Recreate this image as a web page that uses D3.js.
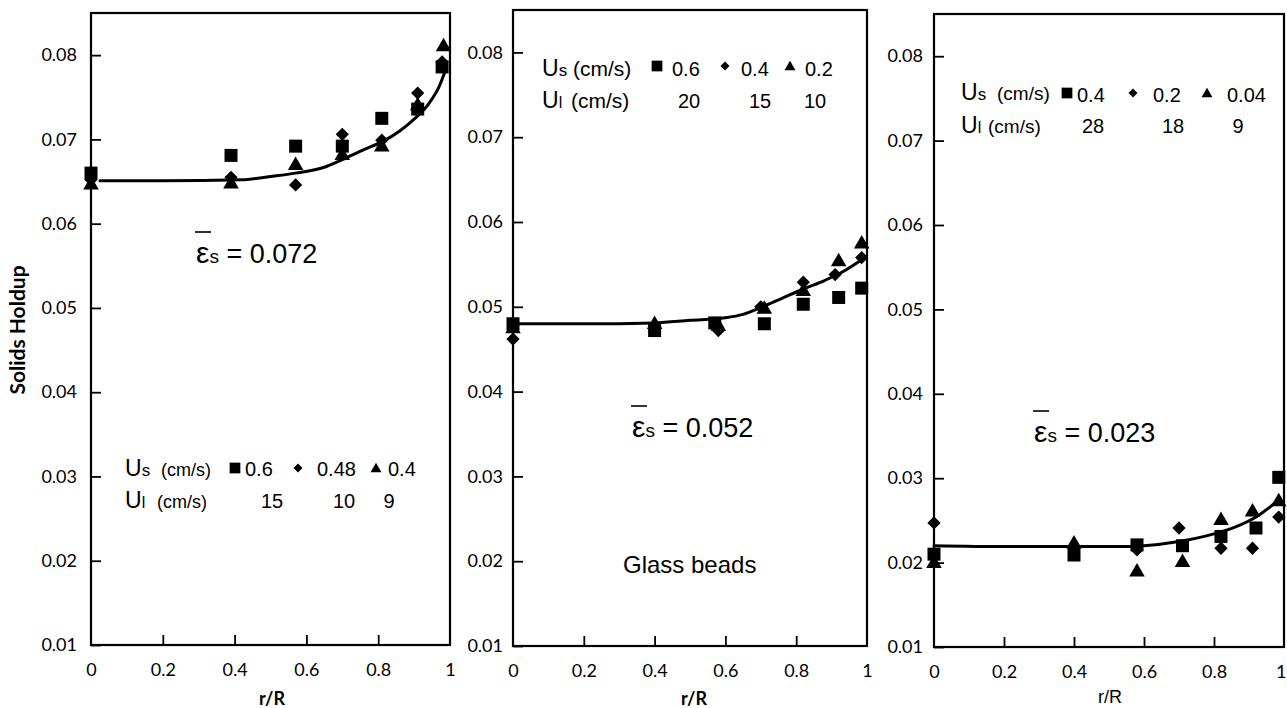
<!DOCTYPE html>
<html>
<head>
<meta charset="utf-8">
<script src="https://cdn.jsdelivr.net/npm/d3@7"></script>
<style>
  html, body { margin: 0; padding: 0; background: #fff; }
  svg { display: block; }
</style>
</head>
<body>
<svg id="chart" width="1287" height="708"></svg>
<script>
// ---------------- DATA ----------------
const xTickValues = [0, 0.2, 0.4, 0.6, 0.8, 1];
const xTickLabels = ["0", "0.2", "0.4", "0.6", "0.8", "1"];
const yTickValues = [0.01, 0.02, 0.03, 0.04, 0.05, 0.06, 0.07, 0.08];
const yTickLabels = ["0.01", "0.02", "0.03", "0.04", "0.05", "0.06", "0.07", "0.08"];
const yLabel = "Solids Holdup";
const xLabel = "r/R";

// Panel 1
const p1Square   = [[0,0.0660],[0.39,0.0681],[0.57,0.0692],[0.70,0.0692],[0.81,0.0725],[0.91,0.0736],[0.978,0.0786]];
const p1Diamond  = [[0,0.0652],[0.39,0.0655],[0.57,0.0646],[0.70,0.0706],[0.81,0.0699],[0.91,0.0755],[0.978,0.0792]];
const p1Triangle = [[0,0.0646],[0.39,0.0647],[0.57,0.0669],[0.70,0.0681],[0.81,0.0691],[0.91,0.0740],[0.982,0.0810]];
const p1Fit      = [[0.025,0.0651],[0.2,0.0651],[0.42,0.0652],[0.5,0.0656],[0.57,0.0660],[0.65,0.0667],[0.70,0.0676],[0.76,0.0688],[0.81,0.0697],[0.86,0.0710],[0.90,0.0724],[0.94,0.0742],[0.97,0.0763],[0.99,0.0785]];
const p1UsLabels = ["0.6", "0.48", "0.4"];
const p1UlLabels = ["15", "10", "9"];
const p1Mean = "0.072";

// Panel 2
const p2Square   = [[0,0.0480],[0.40,0.0472],[0.57,0.0481],[0.71,0.0480],[0.82,0.0503],[0.92,0.0511],[0.985,0.0522]];
const p2Diamond  = [[0,0.0462],[0.40,0.0477],[0.58,0.0472],[0.70,0.0500],[0.82,0.0529],[0.91,0.0538],[0.985,0.0558]];
const p2Triangle = [[0,0.0474],[0.40,0.0479],[0.58,0.0477],[0.71,0.0497],[0.82,0.0518],[0.92,0.0553],[0.985,0.0574]];
const p2Fit      = [[0,0.0480],[0.2,0.0480],[0.4,0.0481],[0.5,0.0484],[0.6,0.0487],[0.65,0.0491],[0.70,0.0499],[0.76,0.0510],[0.82,0.0521],[0.88,0.0531],[0.93,0.0541],[0.99,0.0557]];
const p2UsLabels = ["0.6", "0.4", "0.2"];
const p2UlLabels = ["20", "15", "10"];
const p2Mean = "0.052";
const p2Note = "Glass beads";

// Panel 3
const p3Square   = [[0,0.0210],[0.40,0.0209],[0.58,0.0221],[0.71,0.0220],[0.82,0.0231],[0.92,0.0241],[0.985,0.0301]];
const p3Diamond  = [[0,0.0247],[0.40,0.0217],[0.58,0.0215],[0.70,0.0241],[0.82,0.0217],[0.91,0.0217],[0.985,0.0254]];
const p3Triangle = [[0,0.0199],[0.40,0.0222],[0.58,0.0189],[0.71,0.0200],[0.82,0.0250],[0.91,0.0260],[0.985,0.0272]];
const p3Fit      = [[0,0.0220],[0.2,0.0219],[0.4,0.0219],[0.55,0.0219],[0.6,0.0220],[0.7,0.0225],[0.8,0.0234],[0.86,0.0242],[0.92,0.0254],[0.99,0.0276]];
const p3UsLabels = ["0.4", "0.2", "0.04"];
const p3UlLabels = ["28", "18", "9"];
const p3Mean = "0.023";

// ---------------- LAYOUT ----------------
const svg = d3.select("#chart");
const tickFont = "Lato, 'Open Sans', sans-serif";
const arialFont = "'Liberation Sans', Arial, sans-serif";

const panels = [
  { x0: 91, x1: 450, yB: 645, yT: 13, square: p1Square, diamond: p1Diamond, triangle: p1Triangle, fit: p1Fit,
    us: p1UsLabels, ul: p1UlLabels, mean: p1Mean, xLabelBold: true, showYLabel: true, yLabGap: 14,
    legend: { ux: 125, row1: 476, row2: 508, csX1: 161, csX2: 157, csSize: 18, markX: [235, 298, 376], markY: 468, numX: [245, 317, 388], ulX: [272, 344, 389], num1Y: 476 },
    eps: { x: 196, y: 263 }, xLabX: 272 },
  { x0: 513, x1: 867, yB: 646, yT: 10, square: p2Square, diamond: p2Diamond, triangle: p2Triangle, fit: p2Fit,
    us: p2UsLabels, ul: p2UlLabels, mean: p2Mean, xLabelBold: true, showYLabel: false, yLabGap: 10,
    legend: { ux: 542, row1: 76, row2: 108, csX1: 573, csX2: 571, csSize: 21, markX: [657, 725, 790], markY: 66, numX: [672, 741, 805], ulX: [689, 760, 815], num1Y: 76 },
    eps: { x: 632, y: 437 }, xLabX: 694, note: { x: 623, y: 573 } },
  { x0: 934, x1: 1284, yB: 647, yT: 14, square: p3Square, diamond: p3Diamond, triangle: p3Triangle, fit: p3Fit,
    us: p3UsLabels, ul: p3UlLabels, mean: p3Mean, xLabelBold: false, showYLabel: false, yLabGap: 11,
    legend: { ux: 961, row1: 100, row2: 133, csX1: 997, csX2: 988, csSize: 19, markX: [1067, 1133, 1207], markY: 93, numX: [1077, 1153, 1227], ulX: [1093, 1173, 1238], num1Y: 102 },
    eps: { x: 1034, y: 442 }, xLabX: 1110 }
];

const symSquare = d3.symbol().type(d3.symbolSquare);
const symTriangle = d3.symbol().type(d3.symbolTriangle);

panels.forEach((p, i) => {
  const x = d3.scaleLinear().domain([0, 1]).range([p.x0, p.x1]);
  const y = d3.scaleLinear().domain([0.01, 0.085]).range([p.yB, p.yT]);
  const g = svg.append("g");

  // Y axis
  const yAxis = d3.axisLeft(y).tickValues(yTickValues)
    .tickFormat((d, k) => yTickLabels[k]).tickSizeInner(-10).tickSizeOuter(0).tickPadding(p.yLabGap);
  const ya = g.append("g").attr("transform", `translate(${p.x0},0)`).call(yAxis);
  ya.select(".domain").remove();
  ya.selectAll("line").attr("stroke", "#000").attr("stroke-width", 1.8);
  ya.selectAll("text").attr("font-family", tickFont).attr("font-size", 18).attr("fill", "#000");

  // X axis
  const xAxis = d3.axisBottom(x).tickValues(xTickValues)
    .tickFormat((d, k) => xTickLabels[k]).tickSizeInner(-10).tickSizeOuter(0).tickPadding(18);
  const xa = g.append("g").attr("transform", `translate(0,${p.yB})`).call(xAxis);
  xa.select(".domain").remove();
  xa.selectAll("line").attr("stroke", "#000").attr("stroke-width", 1.8)
    .attr("display", d => (d === 0 || d === 1) ? "none" : null);
  xa.selectAll("text").attr("font-family", tickFont).attr("font-size", 18).attr("fill", "#000");
  if (i === 2) {
    xa.selectAll("text").filter(d => d === 1).attr("text-anchor", "end").attr("dx", 2);
  }

  // Frame
  g.append("rect").attr("x", p.x0).attr("y", p.yT)
    .attr("width", p.x1 - p.x0).attr("height", p.yB - p.yT)
    .attr("fill", "none").attr("stroke", "#000").attr("stroke-width", 2.2);

  // X label
  g.append("text").attr("x", p.xLabX).attr("y", p.xLabelBold ? 705 : 703)
    .attr("text-anchor", "middle")
    .attr("font-family", p.xLabelBold ? tickFont : arialFont)
    .attr("font-weight", p.xLabelBold ? "bold" : "normal")
    .attr("font-size", 18).attr("fill", "#000").text(xLabel);

  if (p.showYLabel) {
    g.append("text").attr("transform", "translate(25,330) rotate(-90)")
      .attr("text-anchor", "middle").attr("font-family", tickFont)
      .attr("font-weight", "bold").attr("font-size", 21).attr("fill", "#000").text(yLabel);
  }

  // Fit curve
  const line = d3.line().x(d => x(d[0])).y(d => y(d[1])).curve(d3.curveMonotoneX);
  g.append("path").datum(p.fit).attr("d", line)
    .attr("fill", "none").attr("stroke", "#000").attr("stroke-width", 3).attr("stroke-linecap", "round");

  // Markers
  const mg = g.append("g");
  mg.selectAll("path.tri").data(p.triangle).join("path").attr("class", "tri")
    .attr("d", symTriangle.size(105)())
    .attr("transform", d => `translate(${x(d[0])},${y(d[1])})`).attr("fill", "#000");
  mg.selectAll("path.dia").data(p.diamond).join("path").attr("class", "dia")
    .attr("d", symSquare.size(88)())
    .attr("transform", d => `translate(${x(d[0])},${y(d[1])}) rotate(45)`).attr("fill", "#000");
  mg.selectAll("path.sq").data(p.square).join("path").attr("class", "sq")
    .attr("d", symSquare.size(169)())
    .attr("transform", d => `translate(${x(d[0])},${y(d[1])})`).attr("fill", "#000");

  // Legend
  const L = p.legend;
  const r1 = g.append("text").attr("x", L.ux).attr("y", L.row1).attr("font-family", arialFont).attr("fill", "#000");
  r1.append("tspan").attr("font-size", 23).text("U");
  r1.append("tspan").attr("font-size", 17).text("s");
  g.append("text").attr("x", L.csX1).attr("y", L.row1).attr("font-family", arialFont)
    .attr("font-size", L.csSize).attr("fill", "#000").text("(cm/s)");
  const r2 = g.append("text").attr("x", L.ux).attr("y", L.row2).attr("font-family", arialFont).attr("fill", "#000");
  r2.append("tspan").attr("font-size", 23).text("U");
  r2.append("tspan").attr("font-size", 16).text("l");
  g.append("text").attr("x", L.csX2).attr("y", L.row2).attr("font-family", arialFont)
    .attr("font-size", L.csSize).attr("fill", "#000").text("(cm/s)");

  g.append("path").attr("d", symSquare.size(115)())
    .attr("transform", `translate(${L.markX[0]},${L.markY})`).attr("fill", "#000");
  g.append("path").attr("d", symSquare.size(40)())
    .attr("transform", `translate(${L.markX[1]},${L.markY}) rotate(45)`).attr("fill", "#000");
  g.append("path").attr("d", symTriangle.size(52)())
    .attr("transform", `translate(${L.markX[2]},${L.markY + 1})`).attr("fill", "#000");

  p.us.forEach((t, k) => {
    g.append("text").attr("x", L.numX[k]).attr("y", L.num1Y).attr("font-family", arialFont)
      .attr("font-size", 20).attr("fill", "#000").text(t);
  });
  p.ul.forEach((t, k) => {
    g.append("text").attr("x", L.ulX[k]).attr("y", L.row2).attr("text-anchor", "middle")
      .attr("font-family", arialFont).attr("font-size", 20).attr("fill", "#000").text(t);
  });

  // Mean holdup annotation
  const e = p.eps;
  const et = g.append("text").attr("x", e.x).attr("y", e.y).attr("font-family", arialFont).attr("fill", "#000");
  et.append("tspan").attr("font-size", 30).text("ε");
  et.append("tspan").attr("font-size", 19).text("s");
  et.append("tspan").attr("font-size", 27).text(" = " + p.mean);
  g.append("line").attr("x1", e.x - 1).attr("x2", e.x + 15).attr("y1", e.y - 31).attr("y2", e.y - 31)
    .attr("stroke", "#000").attr("stroke-width", 1.6);

  if (p.note) {
    g.append("text").attr("x", p.note.x).attr("y", p.note.y).attr("font-family", arialFont)
      .attr("font-size", 24).attr("fill", "#000").text(p2Note);
  }
});
</script>
</body>
</html>
